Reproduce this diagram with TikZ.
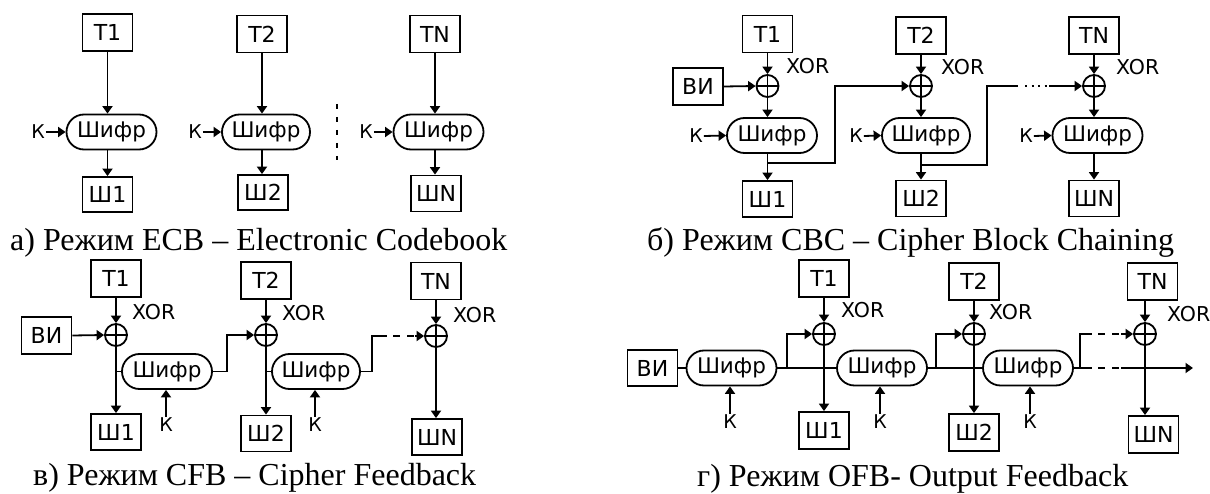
\documentclass[tikz,border=0pt]{standalone}
\usepackage{fontspec}
\setmainfont{Liberation Serif}
\newfontfamily\djv{DejaVu Sans}
\usetikzlibrary{arrows.meta}
\tikzset{
  ln/.style={line width=1.8pt},
  arr/.style={ln,-{Triangle[length=7.5pt,width=10pt]}},
  blk/.style={draw,ln,minimum width=50pt,minimum height=37pt,inner sep=0pt,font=\djv\fontsize{22}{22}\selectfont},
  pill/.style={draw,ln,rounded corners=17.5pt,minimum width=90pt,minimum height=35pt,inner sep=0pt,font=\djv\fontsize{21.5}{21.5}\selectfont},
  xr/.style={draw,ln,circle,minimum size=22pt,inner sep=0pt,path picture={\draw[line width=1.5pt] (path picture bounding box.north) -- (path picture bounding box.south) (path picture bounding box.west) -- (path picture bounding box.east);}},
  lbl/.style={inner sep=1pt,font=\djv\fontsize{19}{19}\selectfont},
  xorl/.style={inner sep=1pt,anchor=west,font=\djv\fontsize{20.5}{20.5}\selectfont},
  captxt/.style={anchor=base west,inner sep=0pt,font=\fontsize{32}{32}\selectfont},
  dotln/.style={line width=1.5pt,dash pattern=on 2pt off 4.5pt},
  dsh/.style={line width=1.8pt,dash pattern=on 7pt off 7pt},
}
\begin{document}
\begin{tikzpicture}[x=1pt,y=-1pt]
\useasboundingbox (0,0) rectangle (1210,494);
% ---------- a) ECB
\node[blk] (a_t1) at (107.5,32.5) {Т1};
\node[pill] (a_p1) at (111.5,132) {Шифр};
\node[blk,minimum height=35pt] (a_s1) at (107.5,194.5) {Ш1};
\node[lbl] (a_k1) at (38,132) {К};
\draw[arr] (a_t1.south) -- (a_t1.south |- a_p1.north);
\draw[arr] (a_t1.south |- a_p1.south) -- (a_s1.north);
\draw[arr] (a_k1.east) -- (a_p1.west);
\node[blk] (a_t2) at (262,34) {Т2};
\node[pill,minimum width=88pt] (a_p2) at (266,132) {Шифр};
\node[blk,minimum height=35pt] (a_s2) at (263,192.5) {Ш2};
\node[lbl] (a_k2) at (195,132) {К};
\draw[arr] (a_t2.south) -- (a_t2.south |- a_p2.north);
\draw[arr] (a_t2.south |- a_p2.south) -- (a_t2.south |- a_s2.north);
\draw[arr] (a_k2.east) -- (a_p2.west);
\draw[ln,dash pattern=on 5pt off 8pt] (337,104) -- (337,160);
\node[blk] (a_tn) at (435,34) {ТN};
\node[pill] (a_p3) at (438.5,132) {Шифр};
\node[blk,minimum height=36pt] (a_sn) at (436,193.5) {ШN};
\node[lbl] (a_k3) at (366,132) {К};
\draw[arr] (a_tn.south) -- (a_tn.south |- a_p3.north);
\draw[arr] (a_tn.south |- a_p3.south) -- (a_tn.south |- a_sn.north);
\draw[arr] (a_k3.east) -- (a_p3.west);
\node[captxt] (capa) at (10,250.5) {а) Режим ECB – Electronic Codebook};
% ---------- b) CBC
\node[blk] (b_t1) at (767.5,34) {Т1};
\node[xr] (b_c1) at (767.5,86) {};
\node[xorl] (b_x1) at (785,66) {XOR};
\node[blk] (b_iv) at (698,86.5) {ВИ};
\node[pill] (b_p1) at (772,135.5) {Шифр};
\node[lbl] (b_k1) at (696,136) {К};
\node[blk,minimum height=36pt] (b_s1) at (767.5,199) {Ш1};
\node[blk] (b_t2) at (921,35.5) {Т2};
\node[xr] (b_c2) at (921,86) {};
\node[xorl] (b_x2) at (940,67) {XOR};
\node[pill,minimum width=88pt] (b_p2) at (926,135.5) {Шифр};
\node[lbl] (b_k2) at (856,136) {К};
\node[blk,minimum height=36pt] (b_s2) at (921,198.5) {Ш2};
\node[blk] (b_tn) at (1094,35.5) {ТN};
\node[xr] (b_c3) at (1094,86) {};
\node[xorl] (b_x3) at (1115,67) {XOR};
\node[pill] (b_p3) at (1097.5,135.5) {Шифр};
\node[lbl] (b_k3) at (1026,136) {К};
\node[blk,minimum height=36pt] (b_sn) at (1094,198.5) {ШN};
\foreach \i/\n in {1/1,2/2,3/n} {
  \draw[arr] (b_t\n.south) -- (b_c\i.north);
  \draw[arr] (b_c\i.south) -- (b_c\i.south |- b_p\i.north);
  \draw[arr] (b_c\i |- b_p\i.south) -- (b_s\n.north);
  \draw[arr] (b_k\i.east) -- (b_p\i.west);
}
\draw[arr] (b_iv.east) -- (b_c1.west);
\coordinate (b_j1) at (767.5,163);
\coordinate (b_m1) at (835,163);
\draw[arr] (b_j1) -- (b_m1) |- (b_c2.west);
\coordinate (b_j2) at (921,165);
\coordinate (b_m2) at (987,165);
\coordinate (b_d1) at (1018,86);
\coordinate (b_d2) at (1025,86);
\coordinate (b_d3) at (1049,86);
\draw[ln] (b_j2) -- (b_m2) |- (b_d1);
\draw[dotln] (b_d2) -- (b_d3);
\draw[arr] (b_d3) -- (b_c3.west);
\node[captxt] (capb) at (647,250.5) {б) Режим CBC – Cipher Block Chaining};
% ---------- c) CFB
\node[blk] (v_t1) at (116,278.5) {Т1};
\node[xr] (v_c1) at (116,335) {};
\node[xorl] (v_x1) at (131,312) {XOR};
\node[blk] (v_iv) at (46.5,335.5) {ВИ};
\node[pill] (v_p1) at (167,371.5) {Шифр};
\node[lbl] (v_k1) at (166,425) {К};
\node[blk,minimum height=36pt] (v_s1) at (116,432) {Ш1};
\node[blk] (v_t2) at (266,280.5) {Т2};
\node[xr] (v_c2) at (266,335) {};
\node[xorl] (v_x2) at (281,313) {XOR};
\node[pill,minimum width=88pt] (v_p2) at (316,371.5) {Шифр};
\node[lbl] (v_k2) at (315,425) {К};
\node[blk,minimum height=36pt] (v_s2) at (266,433.5) {Ш2};
\node[blk] (v_tn) at (436,281) {ТN};
\node[xr] (v_c3) at (436,336) {};
\node[xorl] (v_x3) at (452,315) {XOR};
\node[blk,minimum height=36pt] (v_sn) at (437,437) {ШN};
\draw[arr] (v_iv.east) -- (v_c1.west);
\draw[arr] (v_t1.south) -- (v_c1.north);
\draw[arr] (v_c1.south) -- (v_c1 |- v_s1.north);
\draw[ln] (v_c1 |- v_p1.west) -- (v_p1.west);
\draw[arr] (v_k1.north) -- (v_k1.north |- v_p1.south);
\coordinate (v_m1) at (227,371.5);
\draw[arr] (v_p1.east) -- (v_m1) |- (v_c2.west);
\draw[arr] (v_t2.south) -- (v_c2.north);
\draw[arr] (v_c2.south) -- (v_c2 |- v_s2.north);
\draw[ln] (v_c2 |- v_p2.west) -- (v_p2.west);
\draw[arr] (v_k2.north) -- (v_k2.north |- v_p2.south);
\coordinate (v_m2) at (372,371.5);
\coordinate (v_d1) at (387,336);
\coordinate (v_d2) at (393,336);
\coordinate (v_d3) at (414,336);
\coordinate (v_d4) at (415,336);
\draw[ln] (v_p2.east) -- (v_m2) |- (v_d1);
\draw[dsh] (v_d2) -- (v_d3);
\draw[arr] (v_d4) -- (v_c3.west);
\draw[arr] (v_tn.south) -- (v_c3.north);
\draw[arr] (v_c3.south) -- (v_c3 |- v_sn.north);
\node[captxt] (capc) at (33,485.5) {в) Режим CFB – Cipher Feedback};
% ---------- d) OFB
\node[blk,minimum height=36pt] (g_iv) at (652.5,368) {ВИ};
\node[pill] (g_p1) at (731.5,368) {Шифр};
\node[lbl] (g_k1) at (730,422) {К};
\node[blk] (g_t1) at (824,278.5) {Т1};
\node[xr] (g_c1) at (824,334) {};
\node[xorl] (g_x1) at (840,310) {XOR};
\node[blk] (g_s1) at (824,430.5) {Ш1};
\node[pill] (g_p2) at (882,368) {Шифр};
\node[lbl] (g_k2) at (880,422) {К};
\node[blk] (g_t2) at (974,281.5) {Т2};
\node[xr] (g_c2) at (974,334) {};
\node[xorl] (g_x2) at (988,312) {XOR};
\node[blk] (g_s2) at (974,432.5) {Ш2};
\node[pill] (g_p3) at (1028,368) {Шифр};
\node[lbl] (g_k3) at (1030,422) {К};
\node[blk] (g_tn) at (1152.5,281.5) {ТN};
\node[xr] (g_c3) at (1145,334) {};
\node[xorl] (g_x3) at (1166,314) {XOR};
\node[blk] (g_sn) at (1153.5,434.5) {ШN};
\draw[ln] (g_iv.east) -- (g_p1.west);
\draw[ln] (g_p1.east) -- (g_p2.west);
\draw[ln] (g_p2.east) -- (g_p3.west);
\coordinate (g_b1) at (787,368);
\coordinate (g_b2) at (936,368);
\coordinate (g_b3) at (1080,368);
\draw[arr] (g_b1) |- (g_c1.west);
\draw[arr] (g_b2) |- (g_c2.west);
\foreach \i/\n in {1/1,2/2} {
  \draw[arr] (g_t\n.south) -- (g_c\i.north);
  \draw[arr] (g_c\i.south) -- (g_s\n.north);
}
\foreach \i in {1,2,3} {
  \draw[arr] (g_k\i.north) -- (g_k\i.north |- g_p\i.south);
}
\draw[arr] (g_c3 |- g_tn.south) -- (g_c3.north);
\draw[arr] (g_c3.south) -- (g_c3 |- g_sn.north);
\coordinate (g_e1) at (1092,368);
\coordinate (g_e2) at (1098,368);
\coordinate (g_e3) at (1119,368);
\coordinate (g_e4) at (1121,368);
\coordinate (g_end) at (1193,368);
\draw[ln] (g_p3.east) -- (g_e1);
\draw[dsh] (g_e2) -- (g_e3);
\draw[arr] (g_e4) -- (g_end);
\coordinate (g_f1) at (1092,334);
\coordinate (g_f2) at (1098,334);
\coordinate (g_f3) at (1119,334);
\coordinate (g_f4) at (1121,334);
\draw[ln] (g_b3) |- (g_f1);
\draw[dsh] (g_f2) -- (g_f3);
\draw[arr] (g_f4) -- (g_c3.west);
\node[captxt] (capd) at (697,486) {г) Режим OFB- Output Feedback};
\end{tikzpicture}
\end{document}
